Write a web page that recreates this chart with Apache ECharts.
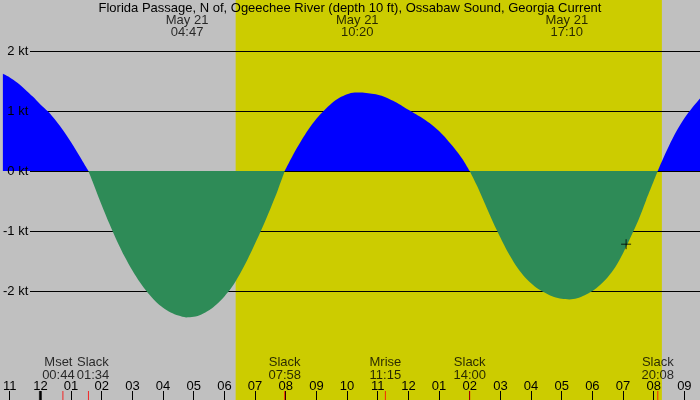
<!DOCTYPE html>
<html><head><meta charset="utf-8">
<script src="https://cdn.jsdelivr.net/npm/echarts@6/dist/echarts.min.js"></script>
<style>html,body{margin:0;padding:0;background:#c0c0c0}#c{width:700px;height:400px}</style>
</head><body><div id="c"></div>
<script>
const TITLE = 'Florida Passage, N of, Ogeechee River (depth 10 ft), Ossabaw Sound, Georgia Current';
// current readings: hours after midnight May 21, and knots
const TIME_H = [-1.224, -1.0, -0.75, -0.5, -0.25, 0.0, 0.25, 0.5, 0.75, 1.0, 1.25, 1.567,
  1.75, 2.0, 2.25, 2.5, 2.75, 3.0, 3.25, 3.5, 3.75, 4.0, 4.25, 4.5, 4.75, 5.0, 5.25, 5.5, 5.75, 6.0, 6.25, 6.5, 6.75, 7.0, 7.25, 7.5, 7.75, 7.967,
  8.25, 8.5, 8.75, 9.0, 9.25, 9.5, 9.75, 10.0, 10.25, 10.5, 10.75, 11.0, 11.25, 11.5, 11.75, 12.0, 12.25, 12.5, 12.75, 13.0, 13.25, 13.5, 13.75, 14.0,
  14.25, 14.5, 14.75, 15.0, 15.25, 15.5, 15.75, 16.0, 16.25, 16.5, 16.75, 17.0, 17.25, 17.5, 17.75, 18.0, 18.25, 18.5, 18.75, 19.0, 19.25, 19.5, 19.75, 20.133,
  20.25, 20.5, 20.75, 21.0, 21.25, 21.51];
const CURRENT_KT = [1.62, 1.56, 1.47, 1.36, 1.24, 1.11, 0.99, 0.84, 0.67, 0.48, 0.27, 0,
  -0.24, -0.57, -0.88, -1.17, -1.43, -1.66, -1.86, -2.03, -2.17, -2.28, -2.36, -2.41, -2.44, -2.43, -2.39, -2.32, -2.22, -2.09, -1.93, -1.72, -1.48, -1.21, -0.93, -0.63, -0.31, 0,
  0.28, 0.50, 0.70, 0.87, 1.01, 1.13, 1.22, 1.28, 1.31, 1.31, 1.29, 1.27, 1.23, 1.17, 1.10, 1.02, 0.945, 0.865, 0.775, 0.665, 0.53, 0.38, 0.21, 0,
  -0.26, -0.55, -0.84, -1.11, -1.36, -1.57, -1.74, -1.87, -1.97, -2.04, -2.10, -2.13, -2.14, -2.12, -2.07, -2.00, -1.90, -1.77, -1.60, -1.37, -1.10, -0.82, -0.49, 0,
  0.14, 0.42, 0.67, 0.88, 1.05, 1.21];
const EXTREME_DATES = ['May 21', 'May 21', 'May 21'];
const EXTREME_TIMES = ['04:47', '10:20', '17:10'];
const EVENT_NAMES = ['Mset', 'Slack', 'Slack', 'Mrise', 'Slack', 'Slack'];
const EVENT_TIMES = ['00:44', '01:34', '07:58', '11:15', '14:00', '20:08'];
const HOUR_TICKS = [-1, 0, 1, 2, 3, 4, 5, 6, 7, 8, 9, 10, 11, 12, 13, 14, 15, 16, 17, 18, 19, 20, 21];
const MIDNIGHT = [0];
const SUNRISE = '06:22', SUNSET = '20:16';
const NOW_H = [19.1], NOW_KT = [-1.22];

const X_MIN = -1.2244, X_MAX = 21.51, Y_MIN = -3.8167, Y_MAX = 2.85;
const FONT = 'Liberation Sans';
const toH = t => { const [h, m] = t.split(':').map(Number); return h + m / 60; };
const hourLabel = v => { const h = ((v % 12) + 12) % 12 || 12; return String(h).padStart(2, '0'); };
const EVENT_OFFSETS = [[-4.5, 0], [4.5, 0], [0, 0], [0, 0], [0, 0], [0, 0]];
const floodData = TIME_H.map((h, i) => [h, CURRENT_KT[i] >= 0 ? CURRENT_KT[i] : null]);
const ebbData = TIME_H.map((h, i) => [h, CURRENT_KT[i] <= 0 ? CURRENT_KT[i] : null]);

const chart = echarts.init(document.getElementById('c'), null, {renderer: 'canvas'});
chart.setOption({
  animation: false,
  backgroundColor: '#c0c0c0',
  title: {text: TITLE, left: 'center', top: 2, padding: 0, textStyle: {fontSize: 13, fontWeight: 'normal', color: '#000', fontFamily: FONT}},
  grid: [
    {left: 30, right: 0, top: 51, bottom: 109},
    {left: 0, right: 0, top: 0, bottom: 0},
    {left: 30, right: 0, top: 51, bottom: 109}
  ],
  xAxis: [
    {gridIndex: 0, type: 'value', show: false, min: 0, max: 1},
    {gridIndex: 1, type: 'value', min: X_MIN, max: X_MAX, z: 4, position: 'bottom',
      axisLine: {show: false, onZero: false}, splitLine: {show: false},
      axisTick: {show: true, inside: true, length: 9, customValues: HOUR_TICKS, lineStyle: {color: '#000', width: 1}},
      axisLabel: {show: true, inside: true, margin: 7, customValues: HOUR_TICKS, formatter: hourLabel, color: '#000', fontSize: 13, fontFamily: FONT}},
    {gridIndex: 2, type: 'value', show: false, min: 0, max: 1}
  ],
  yAxis: [
    {gridIndex: 0, type: 'value', min: -2, max: 2, interval: 1, z: 2,
      axisLine: {show: false}, axisTick: {show: false}, axisLabel: {show: false},
      splitLine: {show: true, lineStyle: {color: '#000', width: 1}}},
    {gridIndex: 1, type: 'value', min: Y_MIN, max: Y_MAX, show: false},
    {gridIndex: 2, type: 'value', min: -2, max: 2, interval: 1, z: 4,
      axisLine: {show: false}, axisTick: {show: false}, splitLine: {show: false},
      axisLabel: {show: true, margin: 3, showMinLabel: true, showMaxLabel: true, formatter: v => v + ' kt', color: '#000', fontSize: 13, fontFamily: FONT}}
  ],
  series: [
    {type: 'line', xAxisIndex: 1, yAxisIndex: 1, z: 3, smooth: 0.3, symbol: 'none', showSymbol: false, connectNulls: false,
      lineStyle: {width: 0}, areaStyle: {opacity: 1, color: '#0000ff', origin: 0}, itemStyle: {color: '#0000ff'},
      data: floodData,
      markArea: {silent: true, z: 1, itemStyle: {color: '#cccc00'},
        data: [[{xAxis: toH(SUNRISE)}, {xAxis: toH(SUNSET)}]]}},
    {type: 'line', xAxisIndex: 1, yAxisIndex: 1, z: 3, smooth: 0.3, symbol: 'none', showSymbol: false, connectNulls: false,
      lineStyle: {width: 0}, areaStyle: {opacity: 1, color: '#2e8b57', origin: 0}, itemStyle: {color: '#2e8b57'},
      data: ebbData},
    {type: 'scatter', xAxisIndex: 1, yAxisIndex: 1, z: 5, clip: false, silent: true,
      symbol: 'rect', symbolSize: [3, 9], symbolOffset: [0, -4.5], itemStyle: {color: '#000'},
      data: MIDNIGHT.map(h => [h, Y_MIN])},
    {type: 'scatter', xAxisIndex: 1, yAxisIndex: 1, z: 6, clip: false, silent: true,
      symbol: 'rect', symbolSize: [1, 9], symbolOffset: [0, -4.5], itemStyle: {color: '#ff0000'},
      data: EVENT_TIMES.map(t => [toH(t), Y_MIN])},
    {type: 'scatter', xAxisIndex: 1, yAxisIndex: 1, z: 6, clip: false, silent: true, symbolSize: 0,
      data: EVENT_TIMES.map((t, i) => ({value: [toH(t), Y_MIN], name: EVENT_NAMES[i], t: t,
        label: {offset: EVENT_OFFSETS[i]}})),
      label: {show: true, position: 'top', distance: 18.5, lineHeight: 12.5, fontSize: 13, color: '#000', fontFamily: FONT, align: 'center',
        formatter: p => p.data.name + '\n' + p.data.t}},
    {type: 'scatter', xAxisIndex: 1, yAxisIndex: 1, z: 6, clip: false, silent: true, symbolSize: 0,
      data: EXTREME_TIMES.map((t, i) => ({value: [toH(t), Y_MAX], name: EXTREME_DATES[i], t: t})),
      label: {show: true, position: 'bottom', distance: 14, lineHeight: 12.5, fontSize: 13, color: '#000', fontFamily: FONT, align: 'center',
        formatter: p => p.data.name + '\n' + p.data.t}},
    {type: 'scatter', xAxisIndex: 1, yAxisIndex: 1, z: 7, clip: false, silent: true,
      symbol: 'path://M5 0V10M0 5H10', symbolSize: 10,
      itemStyle: {color: 'none', borderColor: '#000', borderWidth: 1},
      data: NOW_H.map((h, i) => [h, NOW_KT[i]])}
  ]
});
</script></body></html>
